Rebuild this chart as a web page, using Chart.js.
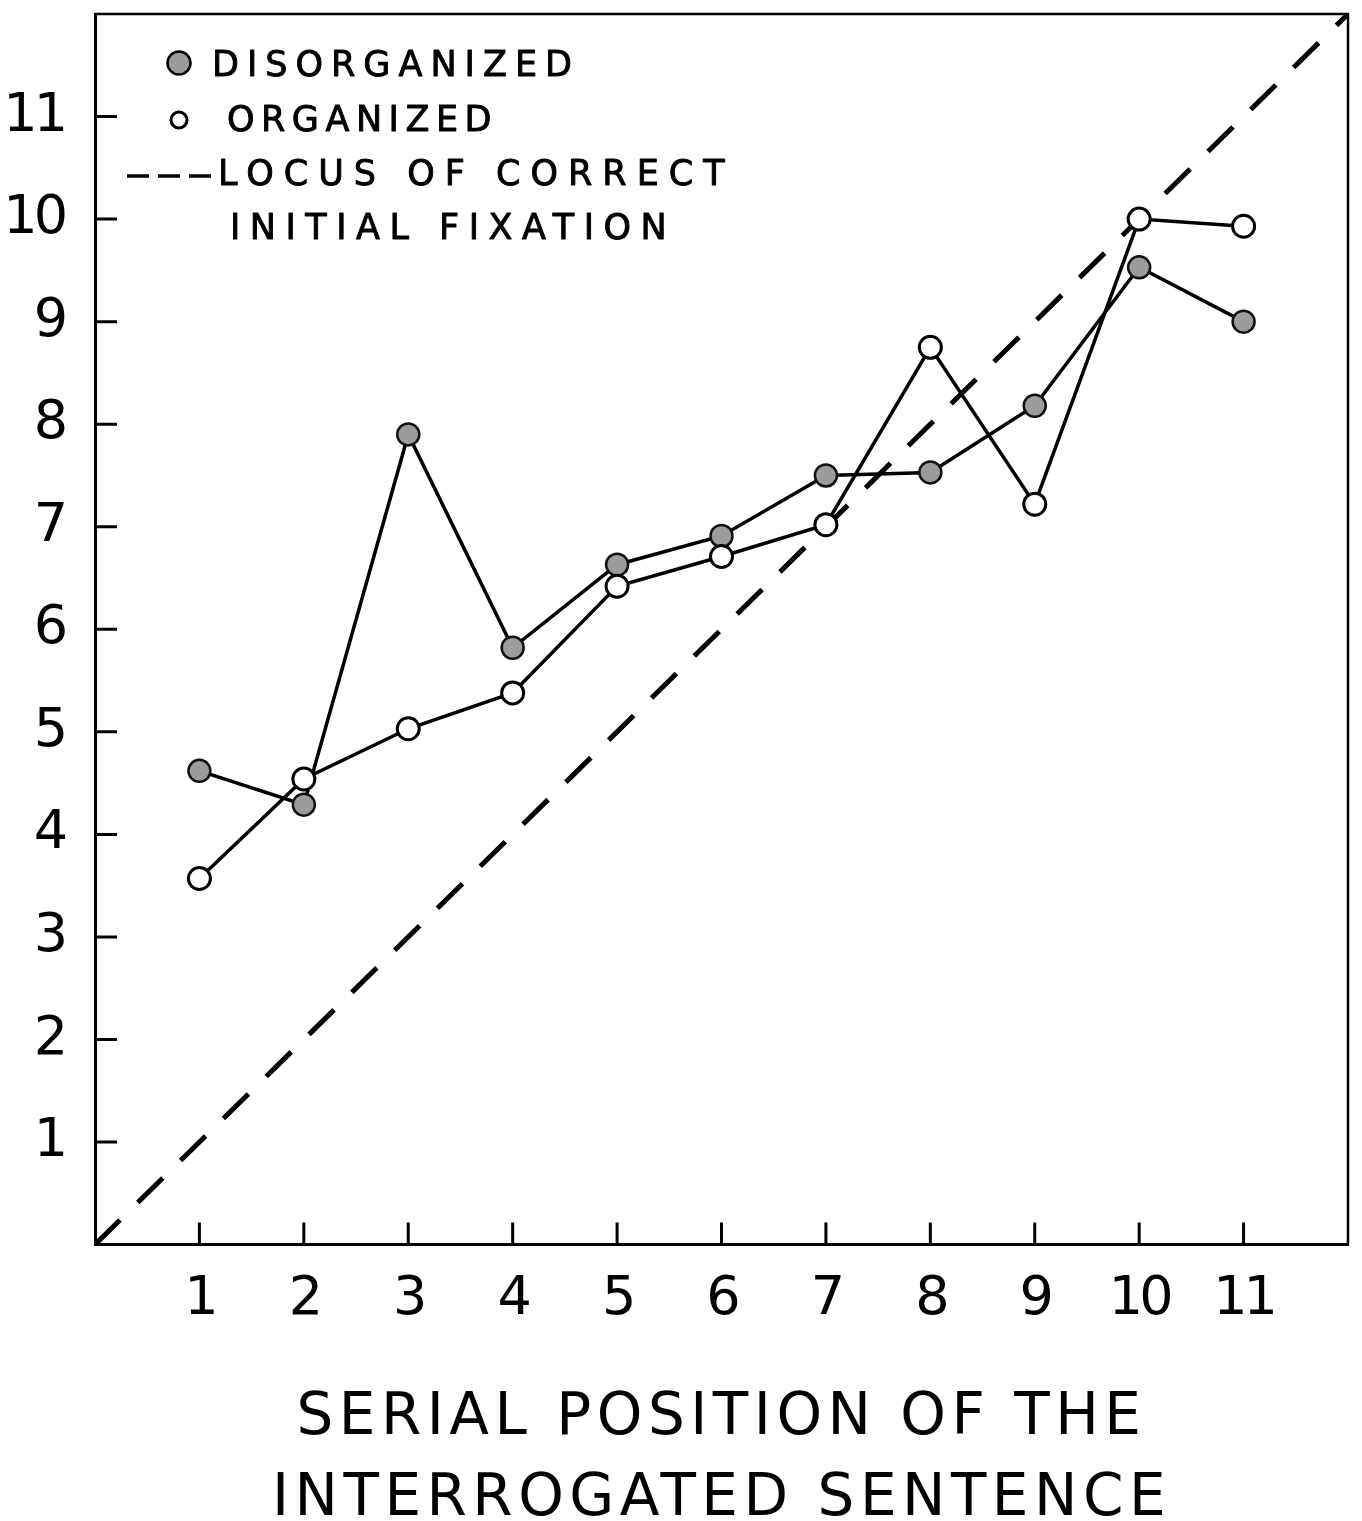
<!DOCTYPE html>
<html>
<head>
<meta charset="utf-8">
<script src="https://cdn.jsdelivr.net/npm/chart.js@4.4.1/dist/chart.umd.min.js"></script>
<style>
html,body{margin:0;padding:0;background:#fff;}
canvas{display:block;}
</style>
</head>
<body>
<canvas id="c" width="1362" height="1521"></canvas>
<script>
// ---- data ----
const positions = [1, 2, 3, 4, 5, 6, 7, 8, 9, 10, 11];
const disorganized = [4.62, 4.29, 7.90, 5.82, 6.63, 6.91, 7.50, 7.53, 8.18, 9.53, 9.00];
const organized    = [3.57, 4.54, 5.03, 5.38, 6.42, 6.71, 7.02, 8.75, 7.22, 10.00, 9.93];
const locusX = [0, 12];
const locusY = [0, 12];
const xTickLabels = ['1', '2', '3', '4', '5', '6', '7', '8', '9', '10', '11'];
const yTickLabels = ['1', '2', '3', '4', '5', '6', '7', '8', '9', '10', '11'];
const legendLabels = ['DISORGANIZED', 'ORGANIZED', 'LOCUS OF CORRECT', 'INITIAL FIXATION'];
const xAxisTitle = ['SERIAL POSITION OF THE', 'INTERROGATED SENTENCE'];

const FONT = "'DejaVu Sans', sans-serif";
const INK = '#000';
const GREY = '#9c9c9c';

const toPts = (xs, ys) => xs.map((x, i) => ({x: x, y: ys[i]}));

const paperPlugin = {
  id: 'paper',
  beforeDraw(chart) {
    const ctx = chart.ctx;
    ctx.save();
    ctx.fillStyle = '#fff';
    ctx.fillRect(0, 0, chart.width, chart.height);
    ctx.restore();
    ctx.letterSpacing = '5.5px';      // axis title (drawn before datasets)
  },
  beforeDatasetsDraw(chart) {
    chart.ctx.letterSpacing = '-4px'; // tick labels (drawn after datasets)
  },
  afterDraw(chart) {
    const ctx = chart.ctx;
    const ca = chart.chartArea;
    const xs = chart.scales.x, ys = chart.scales.y;
    ctx.save();
    ctx.letterSpacing = '0px';
    ctx.strokeStyle = INK;
    ctx.lineCap = 'butt';
    // inward tick marks
    ctx.lineWidth = 3;
    ctx.beginPath();
    xTickLabels.forEach(l => {
      const px = xs.getPixelForValue(Number(l));
      ctx.moveTo(px, ca.bottom); ctx.lineTo(px, ca.bottom - 22);
    });
    yTickLabels.forEach(l => {
      const py = ys.getPixelForValue(Number(l));
      ctx.moveTo(ca.left, py); ctx.lineTo(ca.left + 22, py);
    });
    ctx.stroke();
    // top and right frame
    ctx.lineWidth = 2.5;
    ctx.beginPath();
    ctx.moveTo(ca.left, ca.top); ctx.lineTo(ca.right, ca.top); ctx.lineTo(ca.right, ca.bottom);
    ctx.stroke();

    // legend
    // disorganized marker
    ctx.beginPath(); ctx.arc(179, 63, 11.5, 0, Math.PI * 2);
    ctx.fillStyle = GREY; ctx.fill(); ctx.lineWidth = 2.5; ctx.stroke();
    // organized marker
    ctx.beginPath(); ctx.arc(179, 120, 8, 0, Math.PI * 2);
    ctx.fillStyle = '#fff'; ctx.fill(); ctx.lineWidth = 3; ctx.stroke();
    // dashed locus sample
    ctx.beginPath(); ctx.setLineDash([22, 9]); ctx.lineWidth = 3.5;
    ctx.moveTo(127, 176); ctx.lineTo(214, 176); ctx.stroke();
    ctx.setLineDash([]);

    ctx.font = '35px ' + FONT;
    ctx.fillStyle = INK;
    ctx.textBaseline = 'middle';
    ctx.textAlign = 'left';
    ctx.lineWidth = 0.9;
    ctx.lineJoin = 'round';
    const rows = [
      {t: legendLabels[0], x: 212, y: 67, s: '8px'},
      {t: legendLabels[1], x: 227, y: 122, s: '6.5px'},
      {t: legendLabels[2], x: 218, y: 176, s: '10px'},
      {t: legendLabels[3], x: 230, y: 230, s: '9.5px'}
    ];
    rows.forEach(r => {
      ctx.letterSpacing = r.s;
      ctx.fillText(r.t, r.x, r.y);
      ctx.strokeText(r.t, r.x, r.y);
    });
    ctx.restore();
    ctx.letterSpacing = '0px';
  }
};

const tickValues = (labels) => (scale) => {
  scale.ticks = labels.map(l => ({value: Number(l)}));
};

new Chart(document.getElementById('c'), {
  type: 'line',
  data: {
    datasets: [
      {
        label: 'ORGANIZED',
        data: toPts(positions, organized),
        borderColor: INK,
        borderWidth: 3.5,
        pointRadius: 11,
        pointBorderWidth: 3,
        pointBackgroundColor: '#fff',
        pointBorderColor: INK,
        tension: 0,
        order: 1
      },
      {
        label: 'DISORGANIZED',
        data: toPts(positions, disorganized),
        borderColor: INK,
        borderWidth: 3.5,
        pointRadius: 11,
        pointBorderWidth: 2.5,
        pointBackgroundColor: GREY,
        pointBorderColor: '#111',
        tension: 0,
        order: 2
      },
      {
        label: 'LOCUS OF CORRECT INITIAL FIXATION',
        data: toPts(locusX, locusY),
        borderColor: INK,
        borderWidth: 5,
        borderDash: [35, 25],
        borderCapStyle: 'butt',
        pointRadius: 0,
        order: 3
      }
    ]
  },
  options: {
    responsive: false,
    devicePixelRatio: 1,
    animation: false,
    layout: {padding: {top: 12, right: 7, left: 0, bottom: 0}},
    scales: {
      x: {
        type: 'linear',
        min: 0, max: 12,
        afterBuildTicks: tickValues(xTickLabels),
        afterFit: (s) => { s.height = 131; s.paddingLeft = 0; s.paddingRight = 0; s.paddingTop = 0; s.paddingBottom = 0; },
        grid: {display: false, drawTicks: false},
        border: {display: true, color: INK, width: 3},
        ticks: {
          z: 1,
          autoSkip: false,
          maxRotation: 0,
          padding: 23,
          color: INK,
          font: {family: FONT, size: 54, lineHeight: 1.2},
          callback: (v) => xTickLabels[xTickLabels.indexOf(String(v))]
        }
      },
      y: {
        type: 'linear',
        min: 0, max: 12,
        afterBuildTicks: tickValues(yTickLabels),
        afterFit: (s) => { s.width = 95; s.paddingLeft = 0; s.paddingRight = 0; s.paddingTop = 0; s.paddingBottom = 0; },
        grid: {display: false, drawTicks: false},
        border: {display: true, color: INK, width: 3},
        ticks: {
          z: 1,
          autoSkip: false,
          padding: 31,
          color: INK,
          font: {family: FONT, size: 54, lineHeight: 1.2},
          callback: (v) => yTickLabels[yTickLabels.indexOf(String(v))]
        }
      }
    },
    plugins: {
      legend: {display: false},
      tooltip: {enabled: false},
      title: {
        display: true,
        position: 'bottom',
        fullSize: false,
        text: xAxisTitle,
        color: INK,
        font: {family: FONT, size: 58, weight: 'normal', lineHeight: 1.4},
        padding: {top: 3, bottom: -20}
      }
    }
  },
  plugins: [paperPlugin]
});
</script>
</body>
</html>
